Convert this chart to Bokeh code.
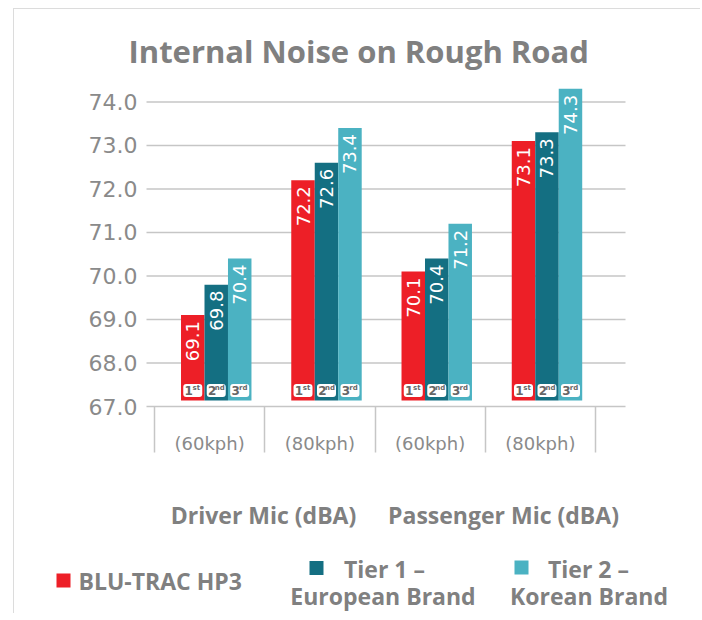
import math
from bokeh.plotting import figure
from bokeh.layouts import column
from bokeh.models import FixedTicker, NumeralTickFormatter, Range1d
from bokeh.core.properties import value
from bokeh.embed import file_html
from bokeh.resources import INLINE

# ---------------- data ----------------
speed_labels = ["(60kph)", "(80kph)", "(60kph)", "(80kph)"]
mic_groups = ["Driver Mic (dBA)", "Passenger Mic (dBA)"]
series_names = ["BLU-TRAC HP3", "Tier 1 –", "Tier 2 –"]
series_sub = ["", "European Brand", "Korean Brand"]
blu_trac_hp3 = [69.1, 72.2, 70.1, 73.1]
tier1_european = [69.8, 72.6, 70.4, 73.3]
tier2_korean = [70.4, 73.4, 71.2, 74.3]
rank_digits = ["1", "2", "3"]
rank_suffix = ["st", "nd", "rd"]
y_ticks = [67.0, 68.0, 69.0, 70.0, 71.0, 72.0, 73.0, 74.0]

# ---------------- style / layout ----------------
colors = ["#ED1F27", "#146F82", "#4BB2C2"]
GRAY = "#808080"
LIGHT = "#c6c6c6"
BAR_W = 0.213
GROUP_SHIFT = 0.56
BAR_BASE = 67.14
BADGE_Y = 67.37
W = 686
CANVAS_LEFT = 14          # page x of the canvas
FRAME_L, FRAME_R = 50, 680  # page x of the (shared) frame
PLOT_L, PLOT_R = 146, 625   # page x of the visible plotting area
BAND = 110.25               # px per category band
BAND0 = 154                 # page x of first band boundary


def band_x(px):
    return (px - BAND0) / BAND


p = figure(width=W, height=471, output_backend="svg", toolbar_location=None,
           x_range=Range1d(band_x(FRAME_L), band_x(FRAME_R)), y_range=Range1d(67.0, 74.4),
           min_border_left=FRAME_L - CANVAS_LEFT, min_border_right=CANVAS_LEFT + W - FRAME_R,
           min_border_top=75, min_border_bottom=74)
p.outline_line_color = None
p.background_fill_color = "white"
p.border_fill_color = "white"

# title
p.title.text = "Internal Noise on Rough Road"
p.title.text_font = "Open Sans"
p.title.text_font_style = "bold"
p.title.text_font_size = "31px"
p.title.text_color = GRAY
p.title.align = "left"
p.title.offset = 128 - FRAME_L
p.title.standoff = 26

# horizontal grid lines at the y ticks, limited to the plotting area
p.ygrid.grid_line_color = None
p.xgrid.grid_line_color = None
p.segment(x0=band_x(PLOT_L), x1=band_x(PLOT_R), y0=y_ticks[1:], y1=y_ticks[1:],
          line_color=LIGHT, line_width=1.5)

# bars
all_series = [blu_trac_hp3, tier1_european, tier2_korean]
for j, vals in enumerate(all_series):
    xs = [i + GROUP_SHIFT + (j - 1) * BAR_W for i in range(len(vals))]
    p.vbar(x=xs, top=vals, bottom=BAR_BASE, width=BAR_W, fill_color=colors[j],
           line_color=None)
    p.text(x=xs, y=vals, text=[f"{v:.1f}" for v in vals], angle=math.pi / 2,
           text_align="right", text_baseline="middle", y_offset=6,
           text_color="white", text_font=value("DejaVu Sans"), text_font_size="18px")
    p.rect(x=xs, y=BADGE_Y, width=19, height=13, width_units="screen",
           height_units="screen", fill_color="white", line_color=None, border_radius=3)
    p.text(x=xs, y=BADGE_Y, text=[rank_digits[j]] * len(xs), x_offset=-4,
           text_align="center", text_baseline="middle", text_color="#666666",
           text_font=value("DejaVu Sans"), text_font_style="bold", text_font_size="12px")
    p.text(x=xs, y=BADGE_Y, text=[rank_suffix[j]] * len(xs), x_offset=3.5, y_offset=-2,
           text_align="center", text_baseline="middle", text_color="#666666",
           text_font=value("DejaVu Sans"), text_font_style="bold", text_font_size="7px")

# y axis (labels pulled right so they end just left of the plotting area)
p.yaxis.ticker = FixedTicker(ticks=y_ticks)
p.yaxis.formatter = NumeralTickFormatter(format="0.0")
p.yaxis.axis_line_color = None
p.yaxis.major_tick_line_color = None
p.yaxis.minor_tick_line_color = None
p.yaxis.major_tick_out = 0
p.yaxis.major_tick_in = 0
p.yaxis.minor_tick_out = 0
p.yaxis.minor_tick_in = 0
p.yaxis.major_label_standoff = -(137 - FRAME_L)
p.yaxis.major_label_text_font = "DejaVu Sans"
p.yaxis.major_label_text_font_size = "22px"
p.yaxis.major_label_text_color = "#8a8a8a"

# x axis
centers = [i + 0.5 for i in range(len(speed_labels))]
p.xaxis.ticker = FixedTicker(ticks=centers, minor_ticks=list(range(len(speed_labels) + 1)))
p.xaxis.major_label_overrides = {c: s for c, s in zip(centers, speed_labels)}
p.xaxis.bounds = (band_x(PLOT_L), band_x(PLOT_R))
p.xaxis.axis_line_color = LIGHT
p.xaxis.axis_line_width = 1.5
p.xaxis.major_tick_in = 0
p.xaxis.major_tick_out = 0
p.xaxis.minor_tick_in = 0
p.xaxis.minor_tick_out = 46
p.xaxis.minor_tick_line_color = LIGHT
p.xaxis.minor_tick_line_width = 1.5
p.xaxis.major_label_standoff = -20
p.xaxis.major_label_text_font = "DejaVu Sans"
p.xaxis.major_label_text_font_size = "18px"
p.xaxis.major_label_text_color = "#8a8a8a"

# ---------------- lower panel: group labels + legend (page-pixel coordinates) ----------------
q = figure(width=W, height=133, output_backend="svg", toolbar_location=None,
           x_range=Range1d(FRAME_L, FRAME_R), y_range=Range1d(613, 480),
           x_axis_location=None, y_axis_location=None,
           min_border_left=FRAME_L - CANVAS_LEFT, min_border_right=CANVAS_LEFT + W - FRAME_R,
           min_border_top=0, min_border_bottom=0)
q.outline_line_color = None
q.grid.visible = False
q.border_fill_color = "white"

bold = dict(text_font=value("Open Sans"), text_font_style="bold", text_color=GRAY)
q.text(x=[263, 503], y=[514, 514], text=mic_groups, text_align="center",
       text_baseline="middle", text_font_size="23px", **bold)

q.rect(x=[63, 316, 521], y=[580, 567.5, 567], width=14, height=14, width_units="screen",
       height_units="screen", fill_color=colors, line_color=None)
q.text(x=[78], y=[580], text=[series_names[0]], text_align="left", text_baseline="middle",
       text_font_size="23px", **bold)
q.text(x=[384, 588], y=[568, 568], text=series_names[1:], text_align="center",
       text_baseline="middle", text_font_size="23px", **bold)
q.text(x=[382.5, 588.5], y=[595, 595], text=series_sub[1:], text_align="center",
       text_baseline="middle", text_font_size="23px", **bold)

layout = column(p, q, spacing=0,
                styles={"margin-left": "13px", "margin-top": "8px",
                        "border-left": "1px solid #dcdcdc", "border-top": "1px solid #dcdcdc"})

open("out.html", "w").write(file_html(layout, INLINE))
